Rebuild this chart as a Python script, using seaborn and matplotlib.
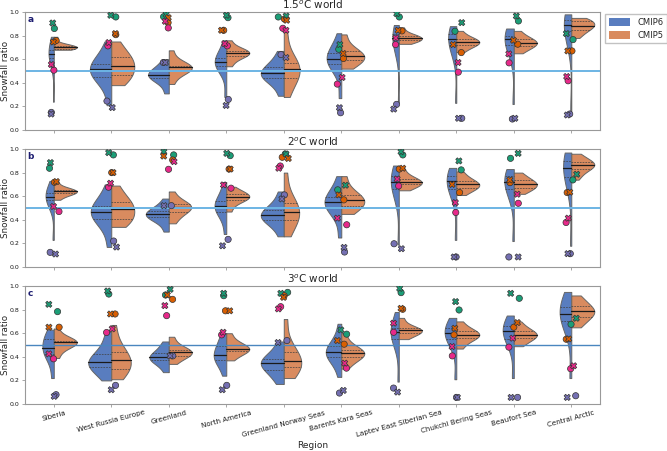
import numpy as np
import pandas as pd
import matplotlib
matplotlib.use("Agg")
import matplotlib.pyplot as plt
from matplotlib.patches import Patch
import seaborn as sns

regions = ["Siberia", "West Russia Europe", "Greenland", "North America",
           "Greenland Norway Seas", "Barents Kara Seas", "Laptev East Siberian Sea",
           "Chukchi Bering Seas", "Beaufort Sea", "Central Arctic"]
worlds = ["1.5$^o$C world", "2$^o$C world", "3$^o$C world"]
panel_letters = ["a", "b", "c"]
ensembles = ["CMIP6", "CMIP5"]

# model snowfall ratios per region (estimated spread of each ensemble)
cmip6_15 = [
    [0.24, 0.57, 0.61, 0.63, 0.645, 0.66, 0.68, 0.72, 0.79],
    [0.21, 0.40, 0.445, 0.49, 0.52, 0.54, 0.56, 0.63, 0.75],
    [0.31, 0.41, 0.44, 0.455, 0.47, 0.48, 0.50, 0.54, 0.60],
    [0.28, 0.51, 0.54, 0.56, 0.575, 0.59, 0.61, 0.66, 0.76],
    [0.29, 0.41, 0.44, 0.46, 0.48, 0.50, 0.53, 0.58, 0.67],
    [0.27, 0.51, 0.56, 0.585, 0.605, 0.625, 0.65, 0.70, 0.82],
    [0.23, 0.66, 0.74, 0.765, 0.78, 0.795, 0.81, 0.84, 0.89],
    [0.23, 0.64, 0.72, 0.75, 0.775, 0.79, 0.81, 0.84, 0.88],
    [0.22, 0.64, 0.72, 0.75, 0.775, 0.785, 0.80, 0.83, 0.86],
    [0.16, 0.74, 0.84, 0.87, 0.89, 0.91, 0.93, 0.95, 0.98],
]
cmip5_15 = [
    [0.68, 0.685, 0.69, 0.70, 0.705, 0.71, 0.715, 0.73, 0.79],
    [0.38, 0.43, 0.465, 0.51, 0.545, 0.58, 0.62, 0.66, 0.75],
    [0.39, 0.47, 0.505, 0.52, 0.53, 0.535, 0.545, 0.58, 0.675],
    [0.54, 0.60, 0.63, 0.645, 0.655, 0.66, 0.67, 0.69, 0.76],
    [0.28, 0.39, 0.44, 0.48, 0.515, 0.54, 0.57, 0.64, 0.83],
    [0.52, 0.56, 0.59, 0.61, 0.625, 0.64, 0.67, 0.71, 0.81],
    [0.73, 0.75, 0.76, 0.77, 0.78, 0.79, 0.80, 0.82, 0.87],
    [0.66, 0.70, 0.72, 0.735, 0.745, 0.755, 0.77, 0.79, 0.84],
    [0.65, 0.69, 0.71, 0.725, 0.74, 0.75, 0.77, 0.79, 0.84],
    [0.78, 0.82, 0.85, 0.87, 0.88, 0.90, 0.92, 0.93, 0.95],
]
cmip6_20 = [
    [0.23, 0.53, 0.565, 0.58, 0.59, 0.61, 0.63, 0.66, 0.73],
    [0.17, 0.35, 0.41, 0.44, 0.47, 0.49, 0.52, 0.58, 0.70],
    [0.30, 0.39, 0.42, 0.435, 0.445, 0.46, 0.475, 0.51, 0.58],
    [0.28, 0.44, 0.47, 0.50, 0.52, 0.54, 0.56, 0.62, 0.72],
    [0.26, 0.37, 0.40, 0.42, 0.44, 0.46, 0.48, 0.54, 0.64],
    [0.25, 0.45, 0.50, 0.53, 0.55, 0.57, 0.59, 0.65, 0.77],
    [0.19, 0.58, 0.66, 0.70, 0.72, 0.74, 0.77, 0.81, 0.86],
    [0.23, 0.58, 0.66, 0.70, 0.725, 0.745, 0.77, 0.80, 0.84],
    [0.22, 0.58, 0.66, 0.70, 0.72, 0.74, 0.77, 0.80, 0.83],
    [0.18, 0.64, 0.76, 0.81, 0.835, 0.86, 0.90, 0.94, 0.97],
]
cmip5_20 = [
    [0.57, 0.61, 0.625, 0.635, 0.64, 0.645, 0.655, 0.67, 0.73],
    [0.34, 0.38, 0.41, 0.45, 0.49, 0.52, 0.555, 0.60, 0.69],
    [0.37, 0.43, 0.47, 0.49, 0.51, 0.52, 0.53, 0.56, 0.64],
    [0.47, 0.54, 0.57, 0.585, 0.595, 0.605, 0.62, 0.64, 0.68],
    [0.26, 0.35, 0.40, 0.44, 0.465, 0.50, 0.54, 0.61, 0.80],
    [0.45, 0.49, 0.52, 0.545, 0.565, 0.585, 0.61, 0.66, 0.77],
    [0.65, 0.68, 0.70, 0.71, 0.72, 0.73, 0.75, 0.78, 0.84],
    [0.61, 0.65, 0.67, 0.685, 0.70, 0.71, 0.73, 0.76, 0.81],
    [0.62, 0.65, 0.67, 0.69, 0.70, 0.715, 0.735, 0.76, 0.80],
    [0.74, 0.79, 0.83, 0.85, 0.865, 0.875, 0.89, 0.92, 0.96],
]
cmip6_30 = [
    [0.22, 0.38, 0.42, 0.45, 0.475, 0.51, 0.555, 0.59, 0.63],
    [0.20, 0.28, 0.315, 0.34, 0.355, 0.38, 0.42, 0.50, 0.61],
    [0.27, 0.34, 0.37, 0.385, 0.395, 0.41, 0.43, 0.48, 0.53],
    [0.24, 0.34, 0.37, 0.395, 0.415, 0.45, 0.49, 0.54, 0.60],
    [0.17, 0.25, 0.29, 0.33, 0.35, 0.365, 0.385, 0.44, 0.53],
    [0.23, 0.36, 0.40, 0.42, 0.44, 0.46, 0.49, 0.55, 0.68],
    [0.19, 0.48, 0.55, 0.59, 0.61, 0.625, 0.64, 0.69, 0.78],
    [0.21, 0.48, 0.55, 0.58, 0.60, 0.62, 0.64, 0.68, 0.73],
    [0.22, 0.48, 0.55, 0.59, 0.615, 0.635, 0.66, 0.70, 0.75],
    [0.22, 0.60, 0.70, 0.74, 0.765, 0.79, 0.82, 0.88, 0.95],
]
cmip5_30 = [
    [0.39, 0.46, 0.50, 0.515, 0.525, 0.53, 0.535, 0.56, 0.64],
    [0.21, 0.26, 0.30, 0.34, 0.37, 0.40, 0.44, 0.52, 0.67],
    [0.34, 0.39, 0.41, 0.43, 0.44, 0.45, 0.46, 0.50, 0.57],
    [0.37, 0.42, 0.45, 0.46, 0.465, 0.475, 0.50, 0.53, 0.60],
    [0.22, 0.27, 0.31, 0.34, 0.365, 0.40, 0.44, 0.52, 0.72],
    [0.30, 0.37, 0.40, 0.415, 0.43, 0.445, 0.46, 0.50, 0.60],
    [0.55, 0.58, 0.60, 0.615, 0.625, 0.63, 0.64, 0.67, 0.73],
    [0.47, 0.53, 0.56, 0.575, 0.585, 0.60, 0.615, 0.64, 0.70],
    [0.49, 0.53, 0.56, 0.575, 0.585, 0.60, 0.62, 0.65, 0.70],
    [0.65, 0.70, 0.74, 0.765, 0.785, 0.80, 0.83, 0.87, 0.92],
]

# observational estimates, rows: green, orange, purple, pink datasets
obs_names = ["obs1", "obs2", "obs3", "obs4"]
obs_colors = ["#1b9e77", "#d95f02", "#7570b3", "#e7298a"]
dots_15 = [
    [0.86, 0.958, 0.96, 0.952, 0.958, 0.684, 0.958, 0.837, 0.924, 0.766],
    [0.758, 0.808, 0.91, 0.845, 0.94, 0.606, 0.84, 0.656, 0.727, 0.67],
    [0.149, 0.245, 0.572, 0.259, 0.639, 0.146, 0.217, 0.099, 0.093, 0.135],
    [0.507, 0.713, 0.865, 0.713, 0.862, 0.389, 0.724, 0.49, 0.569, 0.417],
]
crosses_15 = [
    [0.907, 0.972, 0.98, 0.972, 0.966, 0.724, 0.986, 0.91, 0.966, 0.817],
    [0.746, 0.817, 0.952, 0.845, 0.93, 0.648, 0.845, 0.724, 0.76, 0.67],
    [0.135, 0.19, 0.572, 0.208, 0.614, 0.189, 0.177, 0.099, 0.099, 0.127],
    [0.555, 0.741, 0.921, 0.732, 0.845, 0.445, 0.78, 0.572, 0.645, 0.453],
]
dots_20 = [
    [0.837, 0.95, 0.95, 0.944, 0.958, 0.654, 0.95, 0.823, 0.921, 0.738],
    [0.718, 0.80, 0.907, 0.83, 0.93, 0.569, 0.83, 0.631, 0.715, 0.631],
    [0.124, 0.22, 0.52, 0.234, 0.611, 0.127, 0.197, 0.085, 0.085, 0.113],
    [0.47, 0.676, 0.828, 0.668, 0.856, 0.358, 0.687, 0.462, 0.54, 0.377],
]
crosses_20 = [
    [0.885, 0.969, 0.977, 0.963, 0.958, 0.693, 0.977, 0.899, 0.963, 0.786],
    [0.724, 0.80, 0.94, 0.83, 0.92, 0.611, 0.837, 0.70, 0.738, 0.634],
    [0.11, 0.169, 0.52, 0.18, 0.577, 0.166, 0.155, 0.085, 0.085, 0.113],
    [0.513, 0.71, 0.893, 0.696, 0.837, 0.414, 0.746, 0.546, 0.617, 0.414],
]
dots_30 = [
    [0.783, 0.932, 0.924, 0.918, 0.946, 0.592, 0.944, 0.797, 0.896, 0.676],
    [0.651, 0.763, 0.887, 0.79, 0.918, 0.507, 0.803, 0.586, 0.651, 0.549],
    [0.079, 0.158, 0.408, 0.158, 0.538, 0.093, 0.135, 0.056, 0.056, 0.07],
    [0.383, 0.606, 0.749, 0.586, 0.825, 0.304, 0.608, 0.408, 0.482, 0.299],
]
crosses_30 = [
    [0.845, 0.958, 0.972, 0.938, 0.938, 0.628, 0.98, 0.868, 0.938, 0.727],
    [0.651, 0.763, 0.924, 0.79, 0.904, 0.538, 0.811, 0.642, 0.69, 0.552],
    [0.065, 0.121, 0.408, 0.121, 0.521, 0.115, 0.101, 0.056, 0.056, 0.056],
    [0.425, 0.637, 0.834, 0.608, 0.806, 0.346, 0.685, 0.487, 0.558, 0.324],
]

panels = [
    (cmip6_15, cmip5_15, dots_15, crosses_15, "#6cb4e4", 1.4),
    (cmip6_20, cmip5_20, dots_20, crosses_20, "#6cb4e4", 1.4),
    (cmip6_30, cmip5_30, dots_30, crosses_30, "#4a86bf", 1.0),
]


def ensemble_frame(cmip6, cmip5):
    rows = []
    for region, v6, v5 in zip(regions, cmip6, cmip5):
        rows += [(region, "CMIP6", v) for v in v6]
        rows += [(region, "CMIP5", v) for v in v5]
    return pd.DataFrame(rows, columns=["region", "ensemble", "ratio"])


def obs_frame(values):
    rows = []
    for name, vals in zip(obs_names, values):
        rows += [(r, name, v) for r, v in zip(regions, vals)]
    return pd.DataFrame(rows, columns=["region", "source", "ratio"])


sns.set_style("white")
plt.rcParams.update({
    "axes.edgecolor": "0.6",
    "axes.linewidth": 0.8,
    "xtick.color": "0.6",
    "ytick.color": "0.6",
    "xtick.labelcolor": "0.1",
    "ytick.labelcolor": "0.1",
    "xtick.bottom": True,
    "ytick.left": True,
    "xtick.major.size": 2.5,
    "ytick.major.size": 2.5,
    "xtick.major.width": 0.6,
    "ytick.major.width": 0.6,
})

ens_palette = sns.color_palette("muted", 2)
fill_colors = [sns.desaturate(c, 0.75) for c in ens_palette]

np.random.seed(3)
fig = plt.figure(figsize=(6.67, 4.51), dpi=100)
left, width, height = 0.0375, 0.8621, 0.2616
bottoms = [0.7118, 0.4080, 0.1042]

for k, (c6, c5, dots, crosses, line_color, line_w) in enumerate(panels):
    ax = fig.add_axes([left, bottoms[k], width, height])
    ens = ensemble_frame(c6, c5)
    # scale the two halves within each region, so draw region by region
    for region in regions:
        n0 = len(ax.lines)
        sns.violinplot(data=ens[ens.region == region], x="region", y="ratio",
                       hue="ensemble", order=regions, hue_order=ensembles,
                       palette=ens_palette, split=True, inner="quart", cut=0,
                       common_norm=True, linewidth=0.7, linecolor="0.4",
                       legend=False, ax=ax)
        # quartiles dashed, median solid
        for j, ln in enumerate(ax.lines[n0:]):
            if j % 3 == 1:
                ln.set_linestyle("-")
                ln.set_color("0.1")
                ln.set_linewidth(0.9)
            else:
                ln.set_linestyle((0, (2.5, 1.5)))
                ln.set_color("0.25")
                ln.set_linewidth(0.5)
    ax.axhline(0.5, color=line_color, lw=line_w, zorder=2.5)

    for values, marker in [(dots, "o"), (crosses, "X")]:
        sns.stripplot(data=obs_frame(values), x="region", y="ratio", hue="source",
                      order=regions, hue_order=obs_names, palette=obs_colors,
                      marker=marker, size=4.5, linewidth=0.5, edgecolor="0.2",
                      jitter=0.1, legend=False, ax=ax, zorder=3)

    ax.set_xlim(-0.5, len(regions) - 0.5)
    ax.set_ylim(0, 1)
    ax.set_yticks(np.arange(0, 1.01, 0.2))
    ax.tick_params(labelsize=4.5, pad=1.5)
    ax.set_ylabel("Snowfall ratio", fontsize=6.3)
    ax.yaxis.set_label_coords(-0.026, 0.5)
    ax.set_title(worlds[k], fontsize=7.5, pad=2)
    ax.text(0.004, 0.975, panel_letters[k], transform=ax.transAxes, ha="left",
            va="top", fontsize=6.5, fontweight="bold", color="#1c1c70")
    for s in ax.spines.values():
        s.set_visible(True)
    if k < 2:
        ax.set_xlabel("")
        ax.set_xticklabels([])
    else:
        ax.set_xticks(range(len(regions)))
        ax.set_xticklabels(regions, rotation=15, ha="center", fontsize=5.1)
        ax.set_xlabel("Region", fontsize=6.5, labelpad=2)
    if k == 0:
        handles = [Patch(facecolor=c, edgecolor="none") for c in fill_colors]
        ax.legend(handles, ensembles, loc="upper left", bbox_to_anchor=(1.005, 1.0),
                  fontsize=6, handlelength=2.6, handleheight=1.0, frameon=True,
                  edgecolor="0.7", fancybox=False, borderaxespad=0.3)

fig.savefig("out.png", dpi=100)
